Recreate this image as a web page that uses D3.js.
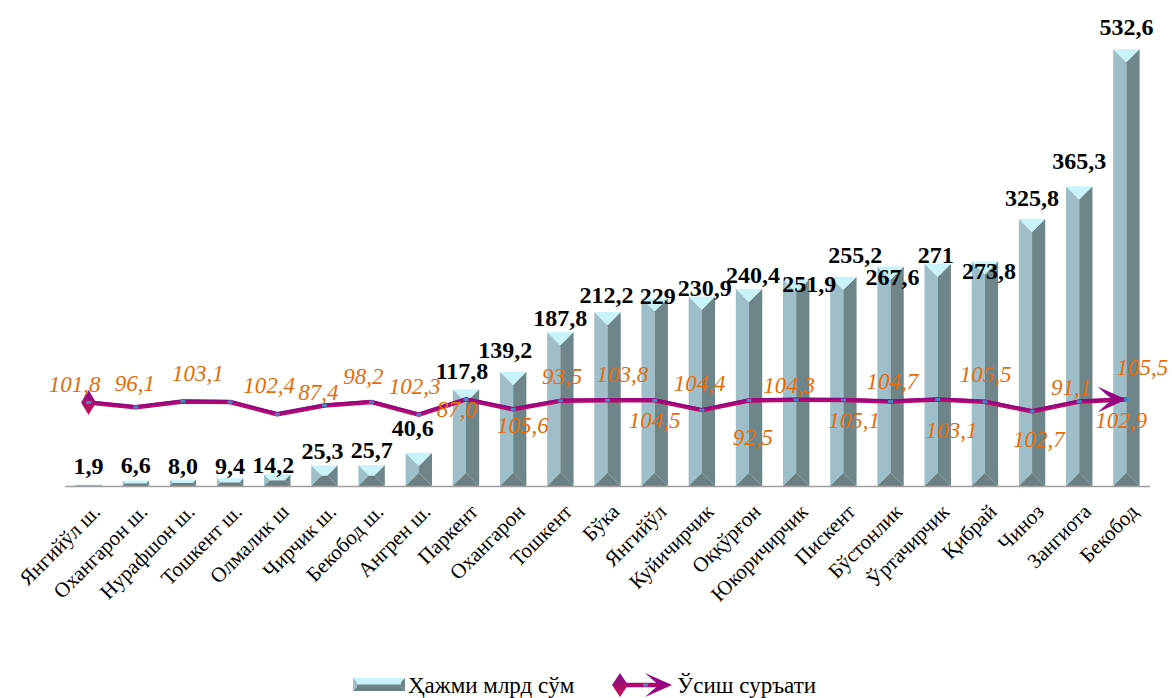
<!DOCTYPE html>
<html>
<head>
<meta charset="utf-8">
<script src="https://cdn.jsdelivr.net/npm/d3@7"></script>
<style>
  html, body { margin: 0; padding: 0; background: #fff; }
  svg { display: block; }
</style>
</head>
<body>
<svg id="chart" width="1172" height="698"></svg>
<script>
// ---------- DATA ----------
const categories = ["Янгийўл ш.", "Охангарон ш.", "Нурафшон ш.", "Тошкент ш.", "Олмалик ш", "Чирчик ш.", "Бекобод ш.", "Ангрен ш.", "Паркент", "Охангарон", "Тошкент", "Бўка", "Янгийўл", "Куйичирчик", "Оққўрғон", "Юкоричирчик", "Пискент", "Бўстонлик", "Ўртачирчик", "Қибрай", "Чиноз", "Зангиота", "Бекобод"];
const volume = [1.9, 6.6, 8.0, 9.4, 14.2, 25.3, 25.7, 40.6, 117.8, 139.2, 187.8, 212.2, 229, 230.9, 240.4, 251.9, 255.2, 267.6, 271, 273.8, 325.8, 365.3, 532.6];
const volumeLabels = ["1,9", "6,6", "8,0", "9,4", "14,2", "25,3", "25,7", "40,6", "117,8", "139,2", "187,8", "212,2", "229", "230,9", "240,4", "251,9", "255,2", "267,6", "271", "273,8", "325,8", "365,3", "532,6"];
const growth = [101.8, 96.1, 103.1, 102.4, 87.4, 98.2, 102.3, 87.0, 105.6, 93.5, 103.8, 104.5, 104.4, 92.5, 104.3, 105.1, 104.7, 103.1, 105.5, 102.7, 91.1, 102.9, 105.5];
const seriesNames = ["Ҳажми млрд сўм", "Ўсиш суръати"];

// label placement offsets (layout only)
const valueLabelDx = [0, 0, 0, 0, -4, -2, 0, -6, -4, -8, 0, -1, 3, 3, 4, 13, 12, 2, -2, 4, 0, 0, 0];
const valueLabelDy = [-19, -16, -14, -13, -10, -15, -15, -25, -19, -22, -14, -17, -3, -9, -14, 4, -22, 10, -9, 9, -21, -26, -22];
const growthLabelDx = [-14, -1, 15, 39, 41, 39, 43, 38, 57, 49, 62, 47, 45, 51, 40, 58, 49, 61, 48, 54, 39, 42, 16];
const growthLabelDy = [-19, -24, -28, -17, -22, -29, -16, -6, 26, -33, -27, 20, -17, 27, -15, 20, -19, 29, -26, 37, -24, 18, -33];

const fmt1 = v => v.toFixed(1).replace(".", ",");
const SERIF = "'Liberation Serif', 'Times New Roman', serif";

// ---------- LAYOUT ----------
const svg = d3.select("#chart");
const x = d3.scaleBand().domain(categories).range([65, 1150]).paddingInner(0.44).paddingOuter(0.22);
const y = d3.scaleLinear().domain([0, 540]).range([486, 43]);

const defs = svg.append("defs");
const mg = defs.append("linearGradient").attr("id", "mk").attr("x1", 0).attr("y1", 0).attr("x2", 0).attr("y2", 1);
mg.append("stop").attr("offset", "0%").attr("stop-color", "#7A0E8E");
mg.append("stop").attr("offset", "100%").attr("stop-color", "#D0104E");
const ag = defs.append("linearGradient").attr("id", "ar").attr("x1", 0).attr("y1", 0).attr("x2", 1).attr("y2", 1);
ag.append("stop").attr("offset", "0%").attr("stop-color", "#8A0A8E");
ag.append("stop").attr("offset", "100%").attr("stop-color", "#A00070");

const C_TOP = "#C9F2FB", C_LIGHT = "#9EBFCA", C_DARK = "#6E8689", C_BOT = "#6A8083";

function bevelBar(g, x0, w, yt, yb) {
  const x1 = x0 + w, h = yb - yt;
  const b = Math.min(w / 2, h / 2);
  const poly = (pts, fill) => g.append("polygon").attr("points", pts.map(p => p.join(",")).join(" ")).attr("fill", fill);
  poly([[x0, yt], [x0 + b, yt + b], [x0 + b, yb - b], [x0, yb]], C_LIGHT);
  poly([[x1, yt], [x1 - b, yt + b], [x1 - b, yb - b], [x1, yb]], C_DARK);
  if (w - 2 * b > 0.01) {
    g.append("rect").attr("x", x0 + b).attr("y", yt + b).attr("width", w / 2 - b).attr("height", Math.max(0, h - 2 * b)).attr("fill", C_LIGHT);
    g.append("rect").attr("x", x0 + w / 2).attr("y", yt + b).attr("width", w / 2 - b).attr("height", Math.max(0, h - 2 * b)).attr("fill", C_DARK);
  }
  poly([[x0, yb], [x0 + b, yb - b], [x1 - b, yb - b], [x1, yb]], C_BOT);
  poly([[x0, yt], [x1, yt], [x1 - b, yt + b], [x0 + b, yt + b]], C_TOP);
}

// bars
const barsG = svg.append("g");
categories.forEach((c, i) => {
  bevelBar(barsG.append("g"), x(c), x.bandwidth(), y(volume[i]), y(0));
});

// axis line
svg.append("g").attr("transform", `translate(0,${y(0)})`)
  .call(d3.axisBottom(x).tickSize(0).tickFormat(""))
  .call(g => g.select(".domain").attr("stroke", "#A0A0A0").attr("stroke-width", 1.6).attr("d", "M65,0.5H1150"));

// x labels
svg.append("g").selectAll("text").data(categories).join("text")
  .attr("transform", d => `translate(${x(d) + x.bandwidth() / 2 + 13},${y(0) + 27}) rotate(-45)`)
  .attr("text-anchor", "end")
  .attr("font-family", SERIF)
  .attr("font-size", 21)
  .attr("fill", "#000")
  .text(d => d);

// growth line
const cx = i => x(categories[i]) + x.bandwidth() / 2;
const line = d3.line().x((d, i) => cx(i)).y(d => y(d));
const lg = svg.append("g");
lg.append("path").datum(growth).attr("d", line).attr("fill", "none")
  .attr("stroke", "#B8086A").attr("stroke-width", 4.5).attr("stroke-linejoin", "round");
lg.append("path").datum(growth).attr("d", line).attr("fill", "none")
  .attr("transform", "translate(0,-1)")
  .attr("stroke", "#900A86").attr("stroke-width", 2).attr("stroke-linejoin", "round");

// start diamond
const p0x = cx(0), p0y = y(growth[0]);
lg.append("polygon").attr("points", `${p0x},${p0y - 12.5} ${p0x + 7.5},${p0y} ${p0x},${p0y + 12.5} ${p0x - 7.5},${p0y}`).attr("fill", "url(#mk)");
// end arrow
const pn = growth.length - 1, pnx = cx(pn), pny = y(growth[pn]);
lg.append("path").attr("d", `M${pnx},${pny} L${pnx - 29},${pny - 13} Q${pnx - 18},${pny - 3} ${pnx - 14},${pny} Q${pnx - 18},${pny + 3} ${pnx - 29},${pny + 13} Z`).attr("fill", "url(#ar)");

// markers
lg.selectAll("rect.mk").data(growth).join("rect").attr("class", "mk")
  .attr("x", (d, i) => cx(i) - 2.5).attr("y", d => y(d) - 1.5)
  .attr("width", 5).attr("height", 3).attr("fill", "#4F81BD");

// value labels
svg.append("g").selectAll("text").data(volume).join("text")
  .attr("x", (d, i) => cx(i) + valueLabelDx[i])
  .attr("y", (d, i) => y(d) + valueLabelDy[i])
  .attr("dy", "0.35em")
  .attr("text-anchor", "middle")
  .attr("font-family", SERIF)
  .attr("font-weight", "bold")
  .attr("font-size", 24)
  .attr("fill", "#000")
  .text((d, i) => volumeLabels[i]);

// growth labels
svg.append("g").selectAll("text").data(growth).join("text")
  .attr("x", (d, i) => cx(i) + growthLabelDx[i])
  .attr("y", (d, i) => y(d) + growthLabelDy[i])
  .attr("dy", "0.35em")
  .attr("text-anchor", "middle")
  .attr("font-family", SERIF)
  .attr("font-style", "italic")
  .attr("font-size", 23)
  .attr("fill", "#E46C0A")
  .text(d => fmt1(d));

// legend
const leg = svg.append("g");
{
  const lx = 353, lw = 52, ly = 678, lh = 13, b = 4;
  const poly = (pts, fill) => leg.append("polygon").attr("points", pts.map(p => p.join(",")).join(" ")).attr("fill", fill);
  poly([[lx, ly], [lx + lw, ly], [lx + lw - b, ly + b], [lx + b, ly + b]], C_TOP);
  poly([[lx, ly], [lx + b, ly + b], [lx + b, ly + lh - b], [lx, ly + lh]], C_LIGHT);
  poly([[lx + lw, ly], [lx + lw - b, ly + b], [lx + lw - b, ly + lh - b], [lx + lw, ly + lh]], C_DARK);
  leg.append("rect").attr("x", lx + b).attr("y", ly + b).attr("width", lw - 2 * b).attr("height", lh / 2 - b + 1).attr("fill", C_TOP);
  leg.append("rect").attr("x", lx + b).attr("y", ly + lh / 2).attr("width", lw - 2 * b).attr("height", lh / 2 - b).attr("fill", C_DARK);
  poly([[lx, ly + lh], [lx + b, ly + lh - b], [lx + lw - b, ly + lh - b], [lx + lw, ly + lh]], C_BOT);
  leg.append("text").attr("x", 408).attr("y", 693)
    .attr("font-family", SERIF).attr("font-size", 23).text(seriesNames[0]);

  const my = 685;
  leg.append("line").attr("x1", 620).attr("x2", 660).attr("y1", my).attr("y2", my).attr("stroke", "#B0086E").attr("stroke-width", 4.5);
  leg.append("polygon").attr("points", `620,${my - 12} 628,${my} 620,${my + 12} 612,${my}`).attr("fill", "url(#mk)");
  leg.append("path").attr("d", `M672,${my} L645,${my - 12} Q655,${my - 3} 659,${my} Q655,${my + 3} 645,${my + 12} Z`).attr("fill", "url(#ar)");
  leg.append("rect").attr("x", 643).attr("y", my - 1.5).attr("width", 5).attr("height", 3).attr("fill", "#4F81BD");
  leg.append("text").attr("x", 677).attr("y", 693)
    .attr("font-family", SERIF).attr("font-size", 23).text(seriesNames[1]);
}
</script>
</body>
</html>
